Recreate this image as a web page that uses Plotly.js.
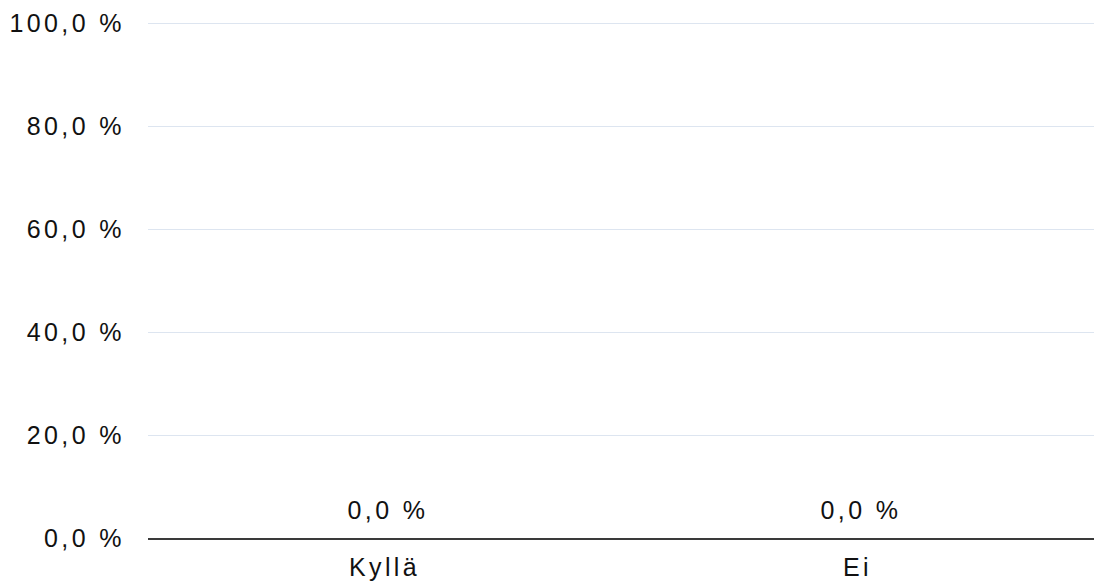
<!DOCTYPE html>
<html>
<head>
<meta charset="utf-8">
<script src="https://cdn.plot.ly/plotly-3.0.1.min.js"></script>
<style>
html,body{margin:0;padding:0;background:#fff;}
#chart text{letter-spacing:3.4px;}
</style>
</head>
<body>
<div id="chart" style="width:1105px;height:584px;"></div>
<script>
const categories = ["Kyllä", "Ei"];
const values = [0, 0];
const valueLabels = ["0,0 %", "0,0 %"];
const yTickVals = [0, 20, 40, 60, 80, 100];
const yTickText = ["0,0 %", "20,0 %", "40,0 %", "60,0 %", "80,0 %", "100,0 %"];

const FONT = "Liberation Sans, Arial, sans-serif";

const traces = [
  {
    type: "bar",
    x: categories,
    y: values,
    marker: {color: "#4a7ab5"},
    hoverinfo: "skip",
    showlegend: false
  }
];

const annotations = categories.map((c, i) => ({
  x: c,
  y: values[i],
  xref: "x",
  yref: "y",
  text: valueLabels[i],
  showarrow: false,
  yanchor: "bottom",
  yshift: 12,
  xshift: 3,
  font: {family: FONT, size: 25, color: "#111111"}
}));

const layout = {
  width: 1105,
  height: 584,
  margin: {l: 148, r: 11, t: 20, b: 46},
  paper_bgcolor: "#ffffff",
  plot_bgcolor: "#ffffff",
  font: {family: FONT, size: 25, color: "#111111"},
  showlegend: false,
  annotations: annotations,
  xaxis: {
    type: "category",
    showgrid: false,
    zeroline: false,
    showline: true,
    linecolor: "#3a3a3a",
    linewidth: 1.6,
    ticks: "",
    ticklabelstandoff: 6,
    tickfont: {size: 25}
  },
  yaxis: {
    range: [0, 100.6],
    tickvals: yTickVals,
    ticktext: yTickText,
    showgrid: true,
    gridcolor: "#dde5f0",
    gridwidth: 1,
    zeroline: false,
    showline: false,
    ticks: "",
    ticklabelstandoff: 22,
    tickfont: {size: 25},
    fixedrange: true
  }
};

Plotly.newPlot("chart", traces, layout, {displayModeBar: false, staticPlot: true});
</script>
</body>
</html>
